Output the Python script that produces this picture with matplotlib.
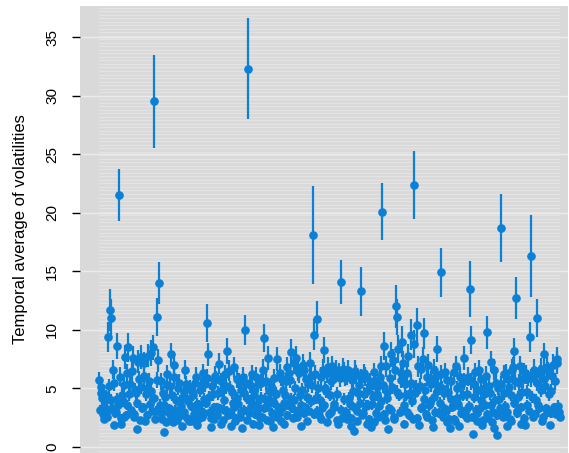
import numpy as np
import matplotlib
matplotlib.use("Agg")
import matplotlib.pyplot as plt

plt.rcParams['font.family'] = ['Liberation Sans', 'DejaVu Sans']

# temporal averages (in x order) and their half-widths
avg_a = [5.7, 5.1, 4.2, 2.4, 4.0, 3.1, 9.4, 11.7, 11.0, 6.6, 1.9, 3.0, 8.6, 21.5, 2.0, 4.4, 2.6, 7.7, 3.6, 8.5,
         5.4, 3.2, 7.6, 2.8, 4.6, 1.5, 5.8, 7.7, 3.3, 7.2, 2.2, 5.0, 7.8, 3.7, 4.8, 8.5, 29.5, 3.1, 11.1, 14.0,
         5.6, 2.4, 1.3, 4.3, 6.2, 3.0, 5.2, 7.9, 2.1, 7.0, 4.0, 2.8, 5.5, 3.5, 1.8, 4.7, 6.6, 2.5, 3.9, 5.1,
         2.2, 4.4, 3.3, 6.0, 1.9, 3.6, 5.3, 2.6, 4.1, 5.4, 10.6, 7.9, 3.0, 1.7, 4.5, 2.4, 5.8, 3.4, 7.1, 2.0,
         4.9, 3.2, 6.2, 8.2, 2.7, 5.0, 1.8, 3.8, 6.8, 2.5, 4.2, 5.6, 3.0, 1.6, 4.6, 10.0, 2.3, 32.3, 5.3, 3.5]
err_a = [0.7, 0.6, 0.5, 0.3, 0.5, 0.4, 1.3, 1.8, 1.6, 0.8, 0.2, 0.4, 1.1, 2.2, 0.3, 0.6, 0.3, 1.0, 0.4, 1.2,
         0.7, 0.4, 1.0, 0.3, 0.6, 0.2, 0.7, 1.0, 0.4, 0.9, 0.3, 0.6, 1.0, 0.5, 0.6, 1.1, 4.0, 0.4, 1.6, 1.8,
         0.7, 0.3, 0.2, 0.5, 0.8, 0.4, 0.7, 1.0, 0.3, 0.9, 0.5, 0.3, 0.7, 0.4, 0.2, 0.6, 0.8, 0.3, 0.5, 0.6,
         0.3, 0.5, 0.4, 0.8, 0.2, 0.4, 0.7, 0.3, 0.5, 0.7, 1.6, 1.0, 0.4, 0.2, 0.6, 0.3, 0.7, 0.4, 0.9, 0.3,
         0.6, 0.4, 0.8, 1.1, 0.3, 0.6, 0.2, 0.5, 0.9, 0.3, 0.5, 0.7, 0.4, 0.2, 0.6, 1.3, 0.3, 4.3, 0.7, 0.4]

avg_b = [2.0, 4.8, 6.0, 3.1, 1.9, 5.5, 2.6, 9.3, 4.1, 3.4, 7.6, 2.2, 5.2, 1.7, 3.8, 4.5, 7.5, 2.9, 5.9, 3.3,
         2.0, 4.4, 6.8, 3.6, 5.7, 8.1, 2.5, 4.0, 7.6, 3.0, 6.3, 1.8, 4.9, 6.6, 3.4, 2.2, 5.4, 7.2, 3.9, 18.1,
         9.6, 4.2, 10.9, 2.7, 6.0, 3.3, 8.3, 5.0, 2.1, 6.8, 4.4, 3.0, 5.8, 3.7, 6.6, 2.3, 6.4, 14.1, 2.5, 6.5,
         5.9, 2.4, 6.6, 3.7, 1.8, 4.8, 1.4, 6.2, 3.1, 5.3, 13.3, 2.7, 4.5, 6.0, 2.0, 3.6, 5.6, 1.7, 4.3, 6.4,
         2.9, 5.1, 3.5, 6.9, 20.1, 8.6, 2.3, 4.7, 1.5, 5.9, 3.2, 7.4, 2.6, 12.0, 11.1, 4.4, 6.3, 9.0, 2.0, 5.4]
err_b = [0.3, 0.6, 0.8, 0.4, 0.2, 0.7, 0.3, 1.2, 0.5, 0.4, 1.0, 0.3, 0.7, 0.2, 0.5, 0.6, 1.0, 0.4, 0.7, 0.4,
         0.3, 0.5, 0.9, 0.4, 0.7, 1.1, 0.3, 0.5, 1.0, 0.4, 0.8, 0.2, 0.6, 0.8, 0.4, 0.3, 0.7, 0.9, 0.5, 4.2,
         1.3, 0.5, 1.6, 0.3, 0.8, 0.4, 1.1, 0.6, 0.3, 0.9, 0.5, 0.4, 0.7, 0.5, 0.8, 0.3, 0.8, 1.9, 0.3, 0.8,
         0.7, 0.3, 0.8, 0.5, 0.2, 0.6, 0.2, 0.8, 0.4, 0.7, 2.1, 0.3, 0.6, 0.8, 0.3, 0.4, 0.7, 0.2, 0.5, 0.8,
         0.4, 0.6, 0.4, 0.9, 2.4, 1.2, 0.3, 0.6, 0.2, 0.7, 0.4, 1.0, 0.3, 1.8, 1.5, 0.5, 0.8, 1.3, 0.3, 0.7]

avg_c = [3.0, 7.8, 4.6, 9.6, 2.4, 22.4, 5.1, 10.4, 1.9, 6.7, 3.4, 9.7, 4.9, 2.6, 7.0, 3.8, 5.8, 1.7, 4.3, 6.1,
         8.4, 2.9, 14.9, 5.0, 3.3, 6.4, 2.1, 4.7, 1.6, 5.6, 3.5, 2.4, 6.9, 4.2, 1.8, 5.3, 3.1, 7.6, 2.7, 4.5,
         6.0, 13.5, 9.1, 1.1, 5.4, 3.2, 2.2, 6.6, 4.0, 1.9, 5.0, 3.6, 9.8, 2.5, 4.6, 7.3, 3.0, 1.6, 5.5, 1.0,
         4.1, 18.7, 2.8, 6.2, 3.5, 1.8, 5.8, 2.4, 4.4, 6.8, 8.2, 12.7, 3.1, 5.5, 2.0, 4.7, 6.4, 1.9, 3.6, 5.9,
         9.4, 16.3, 2.6, 6.1, 4.0, 11.0, 3.3, 6.7, 2.2, 7.9, 5.2, 3.0, 6.5, 1.9, 4.8, 7.0, 3.4, 2.8, 7.5, 3.0]
err_c = [0.4, 1.0, 0.6, 1.3, 0.3, 2.9, 0.6, 1.5, 0.2, 0.9, 0.4, 1.3, 0.6, 0.3, 0.9, 0.5, 0.7, 0.2, 0.5, 0.8,
         1.1, 0.4, 2.1, 0.6, 0.4, 0.8, 0.3, 0.6, 0.2, 0.7, 0.4, 0.3, 0.9, 0.5, 0.2, 0.7, 0.4, 1.0, 0.3, 0.6,
         0.8, 2.4, 1.2, 0.2, 0.7, 0.4, 0.3, 0.8, 0.5, 0.2, 0.6, 0.4, 1.4, 0.3, 0.6, 0.9, 0.4, 0.2, 0.7, 0.2,
         0.5, 2.9, 0.3, 0.8, 0.4, 0.2, 0.7, 0.3, 0.5, 0.9, 1.1, 1.8, 0.4, 0.7, 0.3, 0.6, 0.8, 0.2, 0.4, 0.7,
         1.3, 3.5, 0.3, 0.8, 0.5, 1.6, 0.4, 0.9, 0.3, 1.0, 0.7, 0.4, 0.8, 0.2, 0.6, 0.9, 0.4, 0.3, 1.0, 0.4]

# the in-between series, sitting half a step to the right of the ones above
avg_d = [3.2, 4.6, 2.8, 3.5, 4.4, 2.6, 5.2, 4.0, 3.3, 5.5, 2.9, 4.1, 3.6, 6.0, 2.5, 3.9, 5.3, 2.7, 6.3, 4.5,
         3.0, 6.5, 2.6, 4.9, 3.8, 7.3, 2.3, 5.1, 3.4, 6.1, 4.5, 2.7, 5.6, 8.0, 3.1, 4.2, 2.4, 5.7, 7.4, 3.6,
         2.9, 4.6, 3.6, 2.1, 5.3, 3.3, 2.6, 4.4, 6.0, 3.2, 2.3, 5.0, 3.9, 2.7, 4.3, 3.0, 5.4, 4.1, 2.2, 3.5,
         4.8, 2.8, 5.5, 3.7, 2.4, 4.9, 3.1, 6.3, 2.9, 3.8, 5.9, 4.3, 2.5, 5.2, 3.4, 6.1, 2.7, 4.6, 3.3, 5.6,
         2.3, 4.0, 5.2, 3.1, 6.5, 2.8, 4.7, 3.4, 2.2, 5.8, 3.7, 2.6, 4.9, 6.0, 3.2, 5.5, 4.2, 2.9, 3.9, 6.2,
         4.4, 2.8, 3.6, 5.4, 2.5, 4.2, 6.6, 3.3, 5.6, 2.3, 4.8, 3.9, 2.9, 5.9, 4.6, 2.6, 3.4, 6.3, 2.2, 4.9,
         3.8, 5.6, 2.7, 6.3, 4.1, 3.3, 7.2, 5.0, 2.6, 6.5, 4.4, 3.6, 7.0, 2.9, 5.8, 4.3, 3.1, 6.1, 5.3, 2.8,
         6.2, 3.1, 5.0, 4.0, 2.4, 6.6, 3.6, 4.8, 6.3, 2.8, 5.6, 6.9, 3.4, 6.4, 4.5, 2.0, 5.9, 3.2, 6.7, 4.1,
         3.0, 6.1, 4.2, 2.5, 5.7, 3.4, 6.5, 2.2, 4.6, 3.8, 5.9, 2.9, 6.3, 3.5, 4.8, 2.4, 5.2, 3.7, 2.1, 5.6,
         4.5, 2.6, 6.0, 3.9, 5.3, 2.8, 6.9, 4.2, 3.3, 7.9, 5.1, 2.4, 6.6, 4.7, 8.4, 3.0, 5.7, 7.2, 3.6, 4.4,
         6.3, 2.7, 5.5, 3.9, 8.8, 4.6, 2.5, 6.9, 5.2, 3.3, 7.5, 4.1, 2.8, 6.0, 3.6, 5.4, 2.3, 6.6, 3.0, 4.8,
         5.2, 3.8, 6.2, 2.6, 4.6, 3.1, 5.7, 2.4, 4.1, 3.4, 6.4, 2.2, 5.0, 3.7, 6.0, 2.9, 4.4, 5.6, 3.2, 2.5,
         3.5, 5.6, 2.6, 4.3, 6.4, 2.9, 4.9, 3.3, 5.8, 2.3, 4.5, 6.1, 2.8, 5.2, 3.6, 2.1, 6.6, 4.0, 2.7, 5.0,
         3.3, 5.4, 2.6, 4.6, 6.3, 3.0, 5.1, 2.2, 6.6, 3.8, 5.6, 2.9, 4.3, 6.9, 3.4, 5.8, 2.5, 6.2, 4.7, 3.1,
         5.9, 4.3, 6.6, 2.8, 5.5, 3.6, 6.2, 4.9, 2.6, 5.8, 3.3, 6.8, 4.5, 2.9, 6.1, 3.2, 5.6, 7.2, 3.5, 2.6]
err_d = [0.4, 0.6, 0.4, 0.5, 0.5, 0.4, 0.6, 0.5, 0.4, 0.7, 0.4, 0.5, 0.5, 0.8, 0.3, 0.5, 0.7, 0.4, 0.8, 0.6,
         0.4, 0.9, 0.3, 0.6, 0.5, 1.0, 0.3, 0.6, 0.4, 0.8, 0.6, 0.4, 0.7, 1.1, 0.4, 0.5, 0.3, 0.7, 1.0, 0.5,
         0.4, 0.6, 0.5, 0.3, 0.7, 0.4, 0.3, 0.5, 0.8, 0.4, 0.3, 0.6, 0.5, 0.4, 0.5, 0.4, 0.7, 0.5, 0.3, 0.4,
         0.6, 0.4, 0.7, 0.5, 0.3, 0.6, 0.4, 0.8, 0.4, 0.5, 0.8, 0.5, 0.3, 0.7, 0.4, 0.8, 0.4, 0.6, 0.4, 0.7,
         0.3, 0.5, 0.7, 0.4, 0.9, 0.4, 0.6, 0.4, 0.3, 0.8, 0.5, 0.3, 0.6, 0.8, 0.4, 0.7, 0.5, 0.4, 0.5, 0.8,
         0.5, 0.4, 0.5, 0.7, 0.3, 0.5, 0.9, 0.4, 0.7, 0.3, 0.6, 0.5, 0.4, 0.8, 0.6, 0.3, 0.4, 0.8, 0.3, 0.6,
         0.5, 0.7, 0.4, 0.8, 0.5, 0.4, 1.0, 0.6, 0.3, 0.9, 0.5, 0.5, 0.9, 0.4, 0.8, 0.5, 0.4, 0.8, 0.7, 0.4,
         0.8, 0.4, 0.6, 0.5, 0.3, 0.9, 0.5, 0.6, 0.8, 0.4, 0.7, 0.9, 0.4, 0.8, 0.6, 0.3, 0.8, 0.4, 0.9, 0.5,
         0.4, 0.8, 0.5, 0.3, 0.7, 0.4, 0.9, 0.3, 0.6, 0.5, 0.8, 0.4, 0.8, 0.5, 0.6, 0.3, 0.7, 0.5, 0.3, 0.7,
         0.6, 0.3, 0.8, 0.5, 0.7, 0.4, 0.9, 0.5, 0.4, 1.1, 0.6, 0.3, 0.9, 0.6, 1.2, 0.4, 0.7, 1.0, 0.5, 0.5,
         0.8, 0.4, 0.7, 0.5, 1.2, 0.6, 0.3, 0.9, 0.7, 0.4, 1.0, 0.5, 0.4, 0.8, 0.5, 0.7, 0.3, 0.9, 0.4, 0.6,
         0.7, 0.5, 0.8, 0.3, 0.6, 0.4, 0.7, 0.3, 0.5, 0.4, 0.8, 0.3, 0.6, 0.5, 0.8, 0.4, 0.5, 0.7, 0.4, 0.3,
         0.4, 0.7, 0.3, 0.5, 0.8, 0.4, 0.6, 0.4, 0.8, 0.3, 0.6, 0.8, 0.4, 0.7, 0.5, 0.3, 0.9, 0.5, 0.4, 0.6,
         0.4, 0.7, 0.3, 0.6, 0.8, 0.4, 0.6, 0.3, 0.9, 0.5, 0.7, 0.4, 0.5, 0.9, 0.4, 0.8, 0.3, 0.8, 0.6, 0.4,
         0.8, 0.5, 0.9, 0.4, 0.7, 0.5, 0.8, 0.6, 0.3, 0.8, 0.4, 0.9, 0.6, 0.4, 0.8, 0.4, 0.7, 1.0, 0.5, 0.3]

y_ticks = [0, 5, 10, 15, 20, 25, 30, 35]

avg = np.array(avg_a + avg_b + avg_c)
err = np.array(err_a + err_b + err_c)
idx = np.arange(len(avg))
mid = np.array(avg_d)
mid_err = np.array(err_d)
mid_idx = np.arange(len(mid)) + 0.5

fig = plt.figure(figsize=(5.69, 4.53), dpi=100)
ax = fig.add_axes([80 / 569, 0, 488 / 569, 1 - 6 / 453])
ax.set_facecolor('#D9D9D9')

ax.set_xlim(-12.35, len(avg) - 1 + 5.85)
ax.set_ylim(-0.51, 37.65)

# faint horizontal stripes over the data range, plus major lines
for yy in np.arange(-0.3, 37.7, 0.3):
    ax.plot([idx[0], idx[-1]], [yy, yy], color='#E3E3E3', lw=0.9, zorder=1)
for t in y_ticks:
    ax.axhline(t, color='#EBEBEB', lw=1.0, zorder=1)

blue = '#0A80D6'
ax.errorbar(mid_idx, mid, yerr=mid_err, fmt='o', color=blue, ms=5.2,
            elinewidth=1.6, capsize=0, zorder=3)
ax.errorbar(idx, avg, yerr=err, fmt='o', color=blue, ms=5.2,
            elinewidth=1.6, capsize=0, zorder=3)

ax.set_yticks(y_ticks)
ax.set_yticklabels([str(t) for t in y_ticks], rotation=90, va='center', fontsize=11)
ax.tick_params(axis='y', length=6, width=1, pad=9, colors='black')
ax.tick_params(axis='x', bottom=False, labelbottom=False)
for s in ax.spines.values():
    s.set_visible(False)
ax.set_ylabel('Temporal average of volatilities', fontsize=12, labelpad=12)

fig.savefig('out.png', dpi=100)
